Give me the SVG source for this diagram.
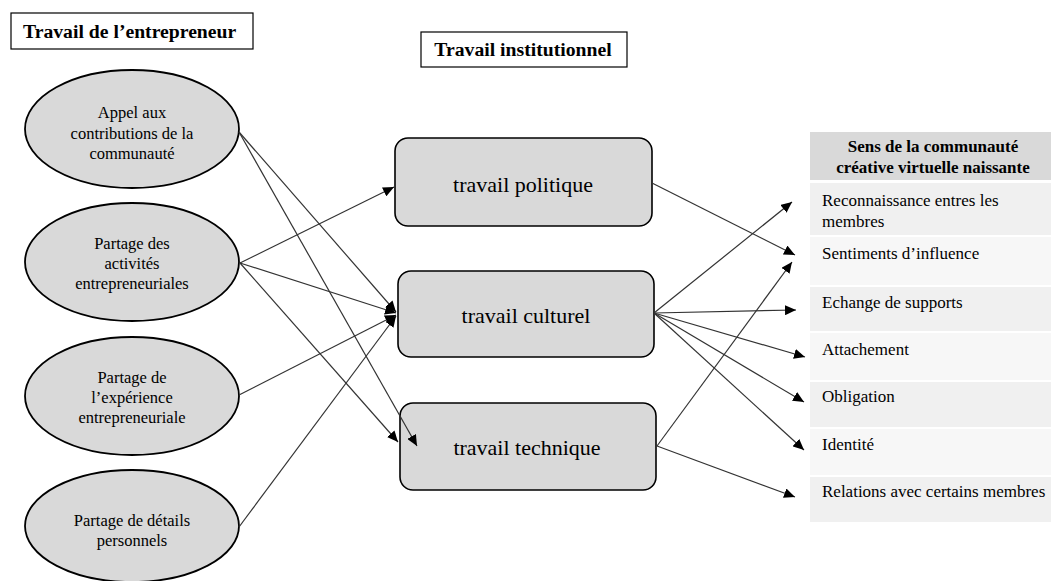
<svg xmlns="http://www.w3.org/2000/svg" width="1051" height="581" viewBox="0 0 1051 581">
<defs>
<marker id="arr" markerUnits="userSpaceOnUse" markerWidth="11" markerHeight="10" refX="11" refY="5" orient="auto">
<path d="M0,0 L11,5 L0,10 z" fill="#000"/>
</marker>
<style>
text{font-family:"Liberation Serif","Times New Roman",Times,"DejaVu Serif",serif;fill:#000}
.title{font-weight:bold;font-size:19.7px}
.ell{fill:#d9d9d9;stroke:#000;stroke-width:1.8}
.et{font-size:16.5px;text-anchor:middle}
.box{fill:#d9d9d9;stroke:#000;stroke-width:1.6}
.bt{font-size:22px;text-anchor:middle}
.hd{font-weight:bold;font-size:17px;text-anchor:middle}
.rt{font-size:17px}
.c{stroke:#333;stroke-width:1.2;fill:none;marker-end:url(#arr)}
</style>
</defs>
<rect width="1051" height="581" fill="#fff"/>

<g id="title-entrepreneur">
<rect x="11" y="13" width="242" height="36" fill="#fff" stroke="#000" stroke-width="1.2"/>
<text class="title" x="23" y="38">Travail de l’entrepreneur</text>
</g>
<g id="title-institutionnel">
<rect x="421" y="32" width="206" height="35" fill="#fff" stroke="#000" stroke-width="1.2"/>
<text class="title" x="523" y="56" text-anchor="middle">Travail institutionnel</text>
</g>

<g id="e1">
<ellipse class="ell" cx="132" cy="129" rx="107" ry="59"/>
<text class="et" x="132" y="118">Appel aux</text>
<text class="et" x="132" y="139">contributions de la</text>
<text class="et" x="132" y="159">communauté</text>
</g>
<g id="e2">
<ellipse class="ell" cx="132" cy="262" rx="107" ry="59"/>
<text class="et" x="132" y="249">Partage des</text>
<text class="et" x="132" y="269">activités</text>
<text class="et" x="132" y="289">entrepreneuriales</text>
</g>
<g id="e3">
<ellipse class="ell" cx="132" cy="396" rx="107" ry="59"/>
<text class="et" x="132" y="383">Partage de</text>
<text class="et" x="132" y="403">l’expérience</text>
<text class="et" x="132" y="423">entrepreneuriale</text>
</g>
<g id="e4">
<ellipse class="ell" cx="132" cy="526" rx="107" ry="56"/>
<text class="et" x="132" y="526">Partage de détails</text>
<text class="et" x="132" y="546">personnels</text>
</g>

<g id="b-politique">
<rect class="box" x="395" y="138" width="257" height="88" rx="13"/>
<text class="bt" x="523" y="192">travail politique</text>
</g>
<g id="b-culturel">
<rect class="box" x="398" y="271" width="256" height="86" rx="13"/>
<text class="bt" x="526" y="323">travail culturel</text>
</g>
<g id="b-technique">
<rect class="box" x="400" y="403" width="256" height="87" rx="13"/>
<text class="bt" x="527" y="455">travail technique</text>
</g>

<g id="table">
<rect x="810" y="132" width="241" height="48" fill="#d9d9d9"/>
<text class="hd" x="933" y="152">Sens de la communauté</text>
<text class="hd" x="933" y="173">créative virtuelle naissante</text>
<rect x="810" y="183" width="241" height="52" fill="#f0f0f0"/>
<text class="rt" x="822" y="206">Reconnaissance entres les</text>
<text class="rt" x="822" y="227">membres</text>
<rect x="810" y="237" width="241" height="48" fill="#f7f7f7"/>
<text class="rt" x="822" y="259">Sentiments d’influence</text>
<rect x="810" y="287" width="241" height="44" fill="#f0f0f0"/>
<text class="rt" x="822" y="308">Echange de supports</text>
<rect x="810" y="333" width="241" height="47" fill="#f7f7f7"/>
<text class="rt" x="822" y="355">Attachement</text>
<rect x="810" y="382" width="241" height="45" fill="#f0f0f0"/>
<text class="rt" x="822" y="402">Obligation</text>
<rect x="810" y="429" width="241" height="46" fill="#f7f7f7"/>
<text class="rt" x="822" y="450">Identité</text>
<rect x="810" y="477" width="241" height="45" fill="#f0f0f0"/>
<text class="rt" x="822" y="497">Relations avec certains membres</text>
</g>

<g id="connectors">
<line class="c" x1="239" y1="132" x2="396" y2="312"/>
<line class="c" x1="239" y1="132" x2="417" y2="446"/>
<line class="c" x1="240" y1="263" x2="394" y2="187"/>
<line class="c" x1="240" y1="263" x2="396" y2="313"/>
<line class="c" x1="240" y1="263" x2="398" y2="442"/>
<line class="c" x1="239" y1="395" x2="396" y2="315"/>
<line class="c" x1="239" y1="527" x2="396" y2="316"/>
<line class="c" x1="652" y1="183" x2="795" y2="255"/>
<line class="c" x1="654" y1="313" x2="792" y2="202"/>
<line class="c" x1="654" y1="313" x2="796" y2="310"/>
<line class="c" x1="654" y1="313" x2="805" y2="357"/>
<line class="c" x1="654" y1="313" x2="804" y2="402"/>
<line class="c" x1="654" y1="313" x2="804" y2="450"/>
<line class="c" x1="657" y1="446" x2="792" y2="262"/>
<line class="c" x1="657" y1="446" x2="795" y2="497"/>
</g>
</svg>
